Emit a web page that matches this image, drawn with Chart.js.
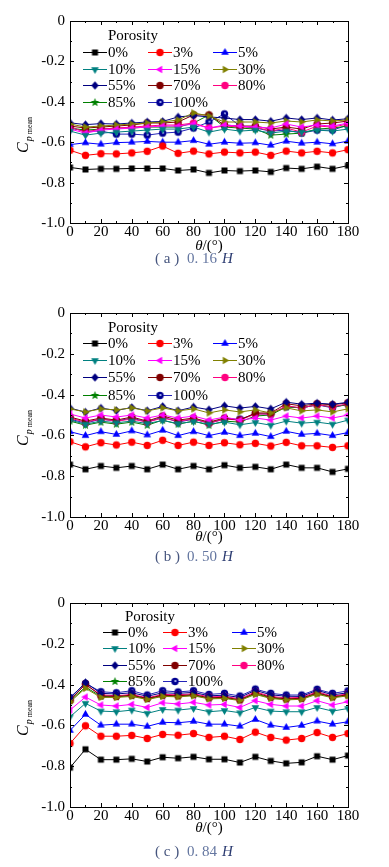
<!DOCTYPE html>
<html>
<head>
<meta charset="utf-8">
<script src="https://cdn.jsdelivr.net/npm/chart.js@4.4.1/dist/chart.umd.min.js"></script>
<style>
  body { margin: 0; background: #fff; width: 389px; height: 867px; position: relative; overflow: hidden; }
  .panel { position: absolute; left: 0; width: 389px; }
</style>
</head>
<body>
<div class="panel" style="top:0;height:290px"><canvas id="chartA" width="389" height="290"></canvas></div>
<div class="panel" style="top:290px;height:285px"><canvas id="chartB" width="389" height="285"></canvas></div>
<div class="panel" style="top:575px;height:292px"><canvas id="chartC" width="389" height="292"></canvas></div>
<script>
'use strict';

// wind angle (deg)
const angles = [0, 10, 20, 30, 40, 50, 60, 70, 80, 90, 100, 110, 120, 130, 140, 150, 160, 170, 180];
const porosity = ['0%', '3%', '5%', '10%', '15%', '30%', '55%', '70%', '80%', '85%', '100%'];
const yTicks = [0, -0.2, -0.4, -0.6, -0.8, -1.0];

// (a) 0.16H  - one row per porosity
const cpA = [
    [-0.725, -0.735, -0.732, -0.732, -0.730, -0.730, -0.730, -0.740, -0.735, -0.752, -0.740, -0.743, -0.740, -0.747, -0.728, -0.732, -0.721, -0.732, -0.716],
    [-0.640, -0.665, -0.657, -0.658, -0.653, -0.645, -0.619, -0.655, -0.644, -0.658, -0.649, -0.653, -0.649, -0.665, -0.644, -0.653, -0.645, -0.653, -0.637],
    [-0.612, -0.603, -0.610, -0.602, -0.600, -0.596, -0.600, -0.600, -0.592, -0.610, -0.600, -0.605, -0.603, -0.615, -0.595, -0.605, -0.600, -0.608, -0.595],
    [-0.545, -0.565, -0.555, -0.550, -0.545, -0.540, -0.535, -0.535, -0.525, -0.550, -0.535, -0.545, -0.540, -0.555, -0.545, -0.550, -0.540, -0.545, -0.535],
    [-0.535, -0.555, -0.540, -0.535, -0.530, -0.525, -0.520, -0.520, -0.510, -0.530, -0.515, -0.520, -0.525, -0.530, -0.510, -0.525, -0.515, -0.520, -0.505],
    [-0.510, -0.525, -0.520, -0.515, -0.510, -0.505, -0.500, -0.490, -0.455, -0.470, -0.500, -0.500, -0.500, -0.505, -0.495, -0.500, -0.490, -0.495, -0.490],
    [-0.504, -0.513, -0.508, -0.510, -0.505, -0.500, -0.497, -0.475, -0.468, -0.475, -0.480, -0.488, -0.488, -0.496, -0.480, -0.488, -0.480, -0.490, -0.484],
    [-0.520, -0.530, -0.525, -0.520, -0.515, -0.505, -0.505, -0.500, -0.465, -0.465, -0.515, -0.520, -0.520, -0.535, -0.525, -0.535, -0.510, -0.505, -0.495],
    [-0.525, -0.550, -0.535, -0.530, -0.525, -0.520, -0.515, -0.515, -0.505, -0.530, -0.520, -0.525, -0.525, -0.545, -0.530, -0.550, -0.520, -0.525, -0.510],
    [-0.530, -0.540, -0.535, -0.530, -0.530, -0.525, -0.525, -0.525, -0.505, -0.465, -0.525, -0.530, -0.535, -0.565, -0.560, -0.555, -0.535, -0.530, -0.520],
    [-0.530, -0.545, -0.545, -0.560, -0.560, -0.565, -0.555, -0.550, -0.530, -0.500, -0.460, -0.520, -0.530, -0.545, -0.540, -0.555, -0.540, -0.540, -0.515]
];

// (b) 0.50H
const cpB = [
    [-0.743, -0.766, -0.750, -0.759, -0.750, -0.766, -0.743, -0.766, -0.750, -0.766, -0.746, -0.759, -0.754, -0.766, -0.743, -0.759, -0.759, -0.779, -0.764],
    [-0.631, -0.656, -0.636, -0.647, -0.633, -0.649, -0.624, -0.649, -0.633, -0.649, -0.636, -0.646, -0.639, -0.652, -0.634, -0.651, -0.651, -0.659, -0.651],
    [-0.582, -0.601, -0.582, -0.595, -0.578, -0.598, -0.575, -0.601, -0.582, -0.601, -0.585, -0.601, -0.590, -0.606, -0.580, -0.595, -0.590, -0.601, -0.586],
    [-0.525, -0.545, -0.530, -0.538, -0.530, -0.542, -0.527, -0.542, -0.532, -0.545, -0.535, -0.548, -0.537, -0.550, -0.530, -0.540, -0.535, -0.545, -0.525],
    [-0.495, -0.515, -0.500, -0.510, -0.500, -0.515, -0.500, -0.515, -0.505, -0.525, -0.510, -0.525, -0.515, -0.525, -0.505, -0.515, -0.505, -0.515, -0.500],
    [-0.470, -0.485, -0.470, -0.475, -0.465, -0.480, -0.465, -0.480, -0.470, -0.490, -0.475, -0.485, -0.475, -0.490, -0.465, -0.480, -0.475, -0.485, -0.470],
    [-0.466, -0.486, -0.466, -0.478, -0.463, -0.479, -0.458, -0.479, -0.461, -0.474, -0.455, -0.466, -0.458, -0.470, -0.437, -0.447, -0.442, -0.447, -0.438],
    [-0.510, -0.530, -0.515, -0.525, -0.510, -0.530, -0.505, -0.525, -0.515, -0.535, -0.515, -0.525, -0.490, -0.490, -0.445, -0.455, -0.445, -0.450, -0.440],
    [-0.515, -0.535, -0.520, -0.530, -0.520, -0.535, -0.515, -0.530, -0.520, -0.540, -0.520, -0.525, -0.495, -0.495, -0.455, -0.465, -0.450, -0.460, -0.445],
    [-0.530, -0.550, -0.535, -0.545, -0.535, -0.550, -0.525, -0.545, -0.530, -0.550, -0.530, -0.535, -0.505, -0.500, -0.460, -0.465, -0.450, -0.460, -0.450],
    [-0.520, -0.540, -0.520, -0.530, -0.515, -0.535, -0.510, -0.535, -0.520, -0.540, -0.520, -0.520, -0.495, -0.495, -0.460, -0.465, -0.450, -0.465, -0.445]
];

// (c) 0.84H
const cpC = [
    [-0.807, -0.717, -0.768, -0.768, -0.764, -0.777, -0.756, -0.761, -0.754, -0.766, -0.766, -0.782, -0.754, -0.774, -0.786, -0.781, -0.751, -0.768, -0.748],
    [-0.689, -0.602, -0.653, -0.653, -0.649, -0.664, -0.644, -0.648, -0.640, -0.659, -0.653, -0.669, -0.633, -0.659, -0.672, -0.664, -0.635, -0.659, -0.640],
    [-0.625, -0.546, -0.599, -0.594, -0.594, -0.605, -0.585, -0.587, -0.580, -0.594, -0.594, -0.604, -0.571, -0.599, -0.610, -0.600, -0.579, -0.594, -0.582],
    [-0.558, -0.492, -0.530, -0.533, -0.525, -0.541, -0.522, -0.525, -0.517, -0.533, -0.527, -0.538, -0.512, -0.530, -0.533, -0.533, -0.512, -0.530, -0.517],
    [-0.525, -0.461, -0.500, -0.505, -0.497, -0.512, -0.489, -0.495, -0.487, -0.500, -0.497, -0.512, -0.479, -0.497, -0.505, -0.505, -0.479, -0.500, -0.484],
    [-0.485, -0.418, -0.463, -0.463, -0.458, -0.473, -0.458, -0.460, -0.455, -0.470, -0.468, -0.478, -0.448, -0.468, -0.475, -0.472, -0.447, -0.465, -0.455],
    [-0.468, -0.390, -0.443, -0.446, -0.440, -0.457, -0.440, -0.443, -0.438, -0.455, -0.452, -0.463, -0.428, -0.450, -0.457, -0.458, -0.428, -0.450, -0.440],
    [-0.478, -0.397, -0.455, -0.458, -0.452, -0.468, -0.452, -0.455, -0.449, -0.465, -0.462, -0.475, -0.440, -0.462, -0.470, -0.467, -0.440, -0.460, -0.450],
    [-0.475, -0.400, -0.450, -0.455, -0.448, -0.465, -0.448, -0.450, -0.445, -0.460, -0.458, -0.470, -0.435, -0.458, -0.465, -0.463, -0.435, -0.457, -0.445],
    [-0.480, -0.412, -0.458, -0.460, -0.455, -0.470, -0.455, -0.457, -0.452, -0.467, -0.465, -0.475, -0.445, -0.465, -0.472, -0.470, -0.443, -0.462, -0.452],
    [-0.463, -0.394, -0.435, -0.440, -0.430, -0.451, -0.430, -0.436, -0.430, -0.448, -0.443, -0.456, -0.422, -0.443, -0.451, -0.451, -0.423, -0.443, -0.431]
];

const lineColors = ['#000000', '#ff0000', '#0000ff', '#008080', '#ff00ff', '#808000', '#000080', '#800000', '#ff0080', '#008000', '#2424b8'];
const markerColors = ['#000000', '#ff0000', '#0000ff', '#008080', '#ff00ff', '#808000', '#000080', '#800000', '#ff0080', '#008000', '#000090'];
const markerShapes = ['square', 'circle', 'triUp', 'triDown', 'triLeft', 'triRight', 'diamond', 'circle', 'circle', 'star', 'dotCircle'];

const serif = '"Liberation Serif", "Times New Roman", serif';
Chart.defaults.font.family = serif;
Chart.defaults.font.size = 15;
Chart.defaults.color = '#000';

// small marker pictures, used as pointStyle and in the legend
function makeMarker(shape, color) {
    const c = document.createElement('canvas');
    c.width = 11;
    c.height = 11;
    const ctx = c.getContext('2d');
    ctx.translate(5.5, 5.5);
    ctx.fillStyle = color;
    ctx.beginPath();
    if (shape === 'square') {
        ctx.rect(-3, -3, 6, 6);
    } else if (shape === 'circle' || shape === 'dotCircle') {
        ctx.arc(0, 0, 3.7, 0, Math.PI * 2);
    } else if (shape.startsWith('tri')) {
        const rot = { triUp: 0, triRight: Math.PI / 2, triDown: Math.PI, triLeft: -Math.PI / 2 }[shape];
        for (let k = 0; k < 3; k++) {
            const a = rot + k * 2 * Math.PI / 3;
            const px = 4.4 * Math.sin(a), py = -4.4 * Math.cos(a);
            if (k === 0) ctx.moveTo(px, py); else ctx.lineTo(px, py);
        }
        ctx.closePath();
    } else if (shape === 'diamond') {
        ctx.moveTo(0, -4.3);
        ctx.lineTo(3.7, 0);
        ctx.lineTo(0, 4.3);
        ctx.lineTo(-3.7, 0);
        ctx.closePath();
    } else if (shape === 'star') {
        for (let k = 0; k < 10; k++) {
            const r = k % 2 === 0 ? 4.6 : 1.9;
            const a = k * Math.PI / 5;
            const px = r * Math.sin(a), py = -r * Math.cos(a);
            if (k === 0) ctx.moveTo(px, py); else ctx.lineTo(px, py);
        }
        ctx.closePath();
    }
    ctx.fill();
    if (shape === 'dotCircle') {
        ctx.fillStyle = '#b8c4ff';
        ctx.beginPath();
        ctx.arc(0.4, -0.4, 1.1, 0, Math.PI * 2);
        ctx.fill();
    }
    return c;
}

const markers = markerShapes.map((s, i) => makeMarker(s, markerColors[i]));

// frame, inward ticks, legend, axis titles and caption
const panelDecor = {
    id: 'panelDecor',
    afterDraw(chart, args, opts) {
        const ctx = chart.ctx;
        const { left, right, top, bottom } = chart.chartArea;
        const xs = chart.scales.x, ys = chart.scales.y;
        ctx.save();
        ctx.strokeStyle = '#000';
        ctx.lineWidth = 1;
        ctx.strokeRect(Math.round(left) + 0.5, Math.round(top) + 0.5, Math.round(right - left), Math.round(bottom - top));

        ctx.beginPath();
        for (let d = 0; d <= 180; d += 10) {
            const px = Math.round(xs.getPixelForValue(d)) + 0.5;
            const len = d % 20 === 0 ? 4 : 2;
            ctx.moveTo(px, bottom); ctx.lineTo(px, bottom - len);
            ctx.moveTo(px, top); ctx.lineTo(px, top + len);
        }
        for (let k = 0; k <= 10; k++) {
            const py = Math.round(ys.getPixelForValue(-k / 10)) + 0.5;
            const len = k % 2 === 0 ? 4 : 2;
            ctx.moveTo(left, py); ctx.lineTo(left + len, py);
            ctx.moveTo(right, py); ctx.lineTo(right - len, py);
        }
        ctx.stroke();

        // legend inside the plot
        const lg = opts.legend;
        ctx.font = '15px ' + serif;
        ctx.textBaseline = 'middle';
        ctx.textAlign = 'left';
        ctx.fillStyle = '#000';
        ctx.fillText('Porosity', lg.titleX, top + lg.titleY);
        chart.data.datasets.forEach((ds, i) => {
            const col = i % 3, row = Math.floor(i / 3);
            const x0 = lg.cols[col], y = Math.round(top + lg.rowY + row * lg.rowDy);
            ctx.strokeStyle = ds.borderColor;
            ctx.beginPath();
            ctx.moveTo(x0, y + 0.5);
            ctx.lineTo(x0 + 24, y + 0.5);
            ctx.stroke();
            const m = ds.pointStyle;
            ctx.drawImage(m, x0 + 12 - m.width / 2, y + 0.5 - m.height / 2);
            ctx.fillStyle = '#000';
            ctx.fillText(ds.label, x0 + 25, y + 1);
        });

        // x title
        const cx = (left + right) / 2;
        ctx.font = 'italic 15px ' + serif;
        const wTheta = ctx.measureText('θ').width;
        ctx.font = '15px ' + serif;
        const wRest = ctx.measureText('/(°)').width;
        const tx = cx - (wTheta + wRest) / 2;
        ctx.font = 'italic 15px ' + serif;
        ctx.fillText('θ', tx, opts.thetaY);
        ctx.font = '15px ' + serif;
        ctx.fillText('/(°)', tx + wTheta, opts.thetaY);

        // y title C_p mean
        ctx.translate(28, (top + bottom) / 2 + 31);
        ctx.rotate(-Math.PI / 2);
        ctx.textBaseline = 'alphabetic';
        ctx.font = 'italic 16px ' + serif;
        ctx.fillText('C', 0, 0);
        const wC = ctx.measureText('C').width;
        ctx.font = 'italic 10px ' + serif;
        ctx.fillText('p', wC + 1, 4);
        const wP = ctx.measureText('p').width;
        ctx.font = '8px ' + serif;
        ctx.fillText('mean', wC + wP + 3, 4);
        ctx.restore();

        // caption
        ctx.save();
        ctx.textBaseline = 'middle';
        ctx.font = '15px ' + serif;
        ctx.fillStyle = '#46557e';
        ctx.fillText('( ' + opts.tag + ' )', 155, opts.captionY);
        ctx.fillStyle = '#6476a0';
        ctx.fillText(opts.height, 187, opts.captionY);
        ctx.font = 'italic 15px ' + serif;
        ctx.fillStyle = '#2a3a70';
        ctx.fillText('H', 222, opts.captionY);
        ctx.restore();
    }
};

function buildChart(id, values, layout) {
    const datasets = porosity.map((p, i) => ({
        label: p,
        data: angles.map((a, j) => ({ x: a, y: values[i][j] })),
        borderColor: lineColors[i],
        backgroundColor: markerColors[i],
        borderWidth: 1,
        pointStyle: markers[i],
        pointRadius: 4,
        tension: 0
    }));
    return new Chart(document.getElementById(id), {
        type: 'line',
        data: { datasets: datasets },
        options: {
            responsive: false,
            animation: false,
            layout: { padding: { left: 0, right: 41, top: layout.top, bottom: 0 } },
            scales: {
                x: {
                    type: 'linear',
                    min: 0,
                    max: 180,
                    grid: { display: false, drawTicks: false },
                    border: { display: false },
                    ticks: { stepSize: 20, padding: 0, maxRotation: 0 },
                    afterFit: (scale) => { scale.height = layout.height - layout.bottom; }
                },
                y: {
                    min: -1,
                    max: 0,
                    grid: { display: false, drawTicks: false },
                    border: { display: false },
                    afterBuildTicks: (scale) => { scale.ticks = yTicks.map(v => ({ value: v })); },
                    ticks: {
                        padding: 5,
                        callback: (v) => (v === 0 ? '0' : v.toFixed(1))
                    },
                    afterFit: (scale) => { scale.width = 70; }
                }
            },
            plugins: {
                legend: { display: false },
                title: { display: false },
                tooltip: { enabled: false },
                panelDecor: {
                    legend: layout.legend,
                    thetaY: layout.thetaY,
                    captionY: layout.captionY,
                    tag: layout.tag,
                    height: layout.label
                }
            }
        },
        plugins: [panelDecor]
    });
}

buildChart('chartA', cpA, {
    top: 21, bottom: 223, height: 290, thetaY: 246, captionY: 259, tag: 'a', label: '0. 16',
    legend: { cols: [83, 148, 213], titleX: 108, titleY: 15, rowY: 31, rowDy: 16.7 }
});
buildChart('chartB', cpB, {
    top: 23, bottom: 227, height: 285, thetaY: 247, captionY: 267, tag: 'b', label: '0. 50',
    legend: { cols: [83, 148, 213], titleX: 108, titleY: 15, rowY: 30, rowDy: 17.2 }
});
buildChart('chartC', cpC, {
    top: 28, bottom: 232, height: 292, thetaY: 253, captionY: 277, tag: 'c', label: '0. 84',
    legend: { cols: [103, 163, 232], titleX: 125, titleY: 14, rowY: 29, rowDy: 16.4 }
});
</script>
</body>
</html>
